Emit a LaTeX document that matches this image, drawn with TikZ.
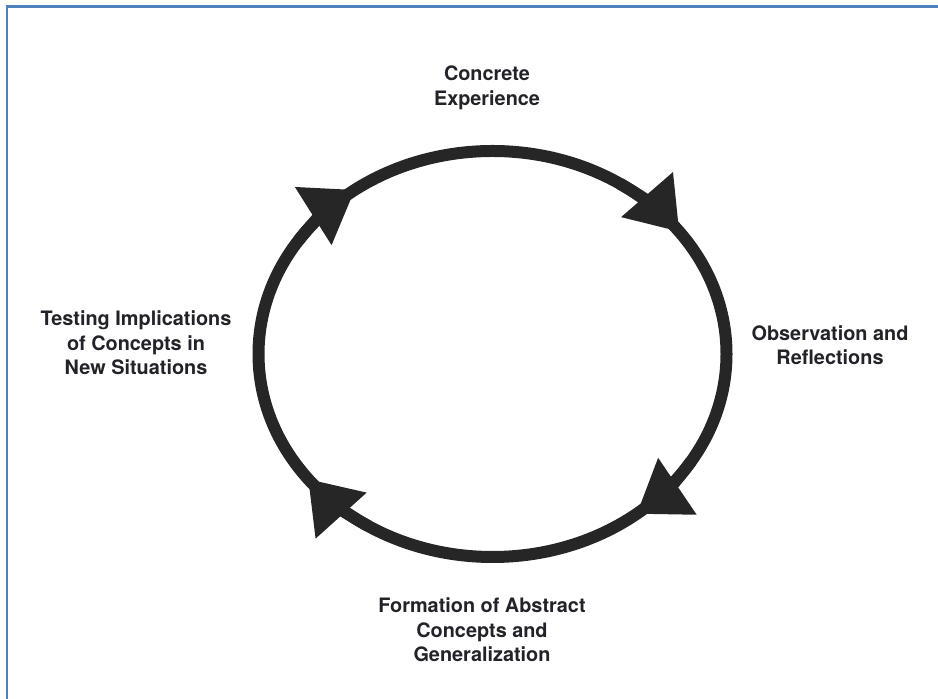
\documentclass[tikz,border=0pt]{standalone}
\usepackage{fontspec}
\setsansfont{TeX Gyre Heros}
\usepackage{tikz}
\usetikzlibrary{arrows.meta,positioning}
\definecolor{ringgray}{RGB}{38,38,38}
\definecolor{frameblue}{RGB}{79,129,189}
\definecolor{labelgray}{RGB}{34,34,40}
\tikzset{
  stagelabel/.style={align=center, inner sep=0pt, text=labelgray,
    font=\sffamily\bfseries\fontsize{14.9}{18.4}\selectfont},
  cyclering/.style={draw=ringgray, line width=9pt},
  cyclearrow/.style={draw=ringgray, line width=9pt, -{Triangle[length=37pt, width=49pt]}},
  frameline/.style={draw=frameblue, line width=1.7pt}
}

\begin{document}
\begin{tikzpicture}[x=0.75pt, y=0.75pt]
\useasboundingbox (0,0) rectangle (938,699);
\draw[frameline] (7,0) |- (938,692.5);
\coordinate (hub) at (492.5,345);
\draw[cyclering] (hub) ellipse [x radius=234, y radius=203];
\draw[cyclearrow] (hub) ++(57:234 and 203) arc [start angle=57, end angle=37, x radius=234, y radius=203];
\draw[cyclearrow] (hub) ++(146:234 and 203) arc [start angle=146, end angle=126, x radius=234, y radius=203];
\draw[cyclearrow] (hub) ++(238:234 and 203) arc [start angle=238, end angle=218, x radius=234, y radius=203];
\draw[cyclearrow] (hub) ++(328:234 and 203) arc [start angle=328, end angle=308, x radius=234, y radius=203];
\node[stagelabel] (concrete) at (487,611) {Concrete\\Experience};
\node[stagelabel] (observe) at (830,354) {Observation and\\Reflections};
\node[stagelabel] (testing) at (136,356) {Testing Implications\\of Concepts in\\New Situations};
\node[stagelabel] (formation) at (482,69) {Formation of Abstract\\Concepts and\\Generalization};
\end{tikzpicture}
\end{document}
